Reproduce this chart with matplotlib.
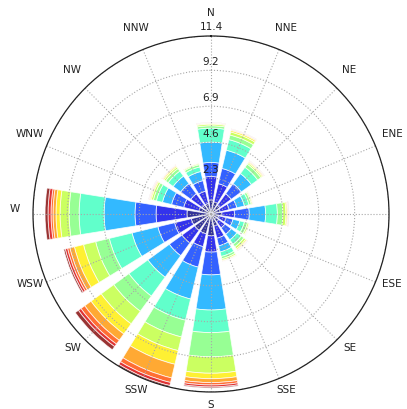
import numpy as np
import matplotlib
matplotlib.use("Agg")
import matplotlib.pyplot as plt

# ──────────────────────────────────────
# Data: frequency (%) per speed bin, one list per direction
directions = ["N", "NNE", "NE", "ENE", "E", "ESE", "SE", "SSE",
              "S", "SSW", "SW", "WSW", "W", "WNW", "NW", "NNW"]

N   = [0.90, 1.50, 0.90, 1.30, 0.90, 0.15, 0.10, 0.05, 0.03, 0.02, 0.01, 0.01]
NNE = [0.80, 1.20, 1.00, 1.20, 0.70, 0.30, 0.20, 0.10, 0.05, 0.03, 0.02, 0.01]
NE  = [0.70, 0.90, 0.80, 0.80, 0.50, 0.25, 0.10, 0.07, 0.05, 0.03, 0.01, 0.01]
ENE = [0.60, 0.60, 0.50, 0.50, 0.30, 0.15, 0.07, 0.04, 0.03, 0.01, 0.01, 0.00]
E   = [0.70, 0.80, 0.95, 1.05, 0.75, 0.35, 0.20, 0.08, 0.05, 0.03, 0.02, 0.02]
ESE = [0.50, 0.50, 0.45, 0.45, 0.30, 0.20, 0.10, 0.05, 0.03, 0.02, 0.01, 0.00]
SE  = [0.60, 0.50, 0.50, 0.45, 0.35, 0.20, 0.15, 0.08, 0.05, 0.02, 0.01, 0.01]
SSE = [0.80, 0.80, 0.50, 0.40, 0.30, 0.15, 0.10, 0.05, 0.03, 0.02, 0.01, 0.00]
S   = [1.40, 1.04, 1.46, 2.25, 1.45, 1.55, 1.05, 0.35, 0.25, 0.15, 0.13, 0.07]
SSW = [1.30, 0.85, 1.35, 2.10, 1.40, 1.10, 0.90, 0.90, 0.90, 0.30, 0.20, 0.10]
SW  = [1.30, 1.00, 1.00, 1.70, 1.50, 1.20, 1.00, 0.80, 0.50, 0.30, 0.20, 0.25]
WSW = [1.30, 1.10, 1.10, 1.70, 1.50, 0.90, 0.80, 0.60, 0.30, 0.15, 0.15, 0.10]
W   = [1.54, 1.98, 1.35, 1.98, 1.60, 0.64, 0.58, 0.26, 0.19, 0.13, 0.19, 0.19]
WNW = [0.80, 1.00, 0.80, 0.60, 0.40, 0.20, 0.13, 0.07, 0.05, 0.03, 0.02, 0.01]
NW  = [0.70, 0.90, 0.80, 0.60, 0.40, 0.20, 0.12, 0.08, 0.05, 0.03, 0.02, 0.00]
NNW = [0.70, 0.80, 0.70, 0.60, 0.30, 0.15, 0.07, 0.04, 0.02, 0.02, 0.00, 0.00]

rows = [N, NNE, NE, ENE, E, ESE, SE, SSE, S, SSW, SW, WSW, W, WNW, NW, NNW]

r_ticks = [2.3, 4.6, 6.9, 9.2, 11.4]
r_labels = ["2.3", "4.6", "6.9", "9.2", "11.4"]

# positions in the jet colormap for each speed bin
cmap_pos = [0.0, 0.09, 0.18, 0.29, 0.42, 0.5, 0.58, 0.66, 0.75, 0.83, 0.92, 1.0]

# ──────────────────────────────────────
# Figure
fig = plt.figure(figsize=(4.07, 4.09), dpi=100)
ax = fig.add_axes([0.0811, 0.0416, 0.8747, 0.8704], projection="polar")
ax.set_theta_zero_location("N")
ax.set_theta_direction(-1)

theta = np.deg2rad(np.arange(len(directions)) * 22.5)
width = 2 * np.pi / len(directions) * 0.8
nbins = len(rows[0])
colors = plt.cm.jet(cmap_pos)

bottom = np.zeros(len(directions))
for k in range(nbins):
    vals = np.array([row[k] for row in rows])
    ax.bar(theta, vals, width=width, bottom=bottom, color=colors[k],
           alpha=0.8, edgecolor="white", linewidth=0.6)
    bottom += vals

ax.set_ylim(0, r_ticks[-1])
ax.set_yticks(r_ticks)
ax.set_yticklabels([])
ax.set_xticks(theta)
ax.set_xticklabels([])
ax.tick_params(length=0)
ax.grid(True, linestyle=":", color="#a8a8a8", linewidth=0.8)
ax.spines["polar"].set_color("#222222")
ax.spines["polar"].set_linewidth(0.9)

# radial labels along north axis
for r, lab in zip(r_ticks, r_labels):
    ax.annotate(lab, xy=(0, r), xytext=(0, 8.5), textcoords="offset pixels",
                ha="center", va="center", fontsize=7.5, color="#222222",
                annotation_clip=False)

# direction labels (E falls outside the figure in the original, so skip it)
r_lab = r_ticks[-1] * 196 / 178
for t, lab in zip(theta, directions):
    if lab == "E":
        continue
    ax.annotate(lab, xy=(t, r_lab), xytext=(0, 5), textcoords="offset pixels",
                ha="center", va="center", fontsize=7.5, color="#222222",
                annotation_clip=False)

fig.savefig("out.png", dpi=100)
